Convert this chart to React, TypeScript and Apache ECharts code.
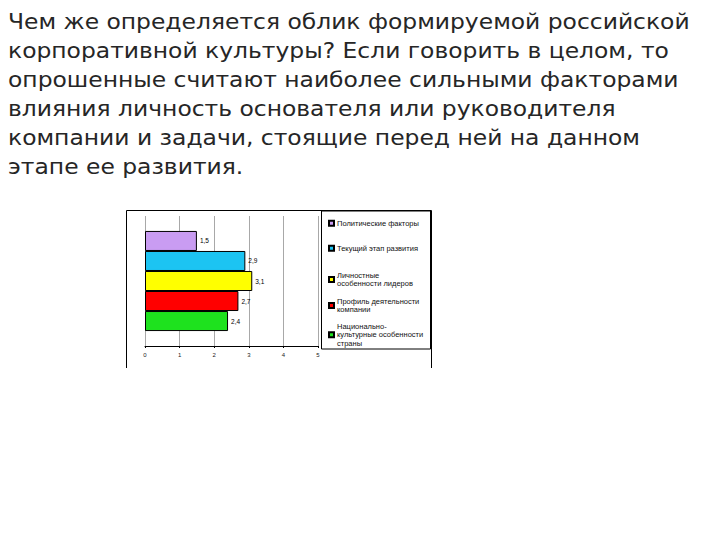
import React, { useEffect, useRef } from 'react';
import * as echarts from 'echarts';

const introLines = [
  'Чем же определяется облик формируемой российской',
  'корпоративной культуры? Если говорить в целом, то',
  'опрошенные считают наиболее сильными факторами',
  'влияния личность основателя или руководителя',
  'компании и задачи, стоящие перед ней на данном',
  'этапе ее развития.',
];

const seriesNames = [
  'Политические факторы',
  'Текущий этап развития',
  'Личностные особенности лидеров',
  'Профиль деятельности компании',
  'Национально-культурные особенности страны',
];
const legendLabels = [
  'Политические факторы',
  'Текущий этап развития',
  'Личностные\nособенности лидеров',
  'Профиль деятельности\nкомпании',
  'Национально-\nкультурные особенности\nстраны',
];
const values = [1.5, 2.9, 3.1, 2.7, 2.4];
const barColors = ['#c99cf2', '#1cc4f2', '#ffff00', '#ff0000', '#1ee21e'];
// top of each legend item (px)
const legendTops = [219, 244, 271, 297, 322];

const App: React.FC = () => {
  const chartRef = useRef<HTMLDivElement>(null);

  useEffect(() => {
    if (!chartRef.current) return;
    const chart = echarts.init(chartRef.current, undefined, { renderer: 'svg' });

    // the slide text is set in a wide face; DejaVu stretched a little is closest
    const introText = introLines.map((line, i) => ({
      type: 'text',
      x: 8,
      y: 21 + 29 * i,
      scaleX: 1.115,
      silent: true,
      style: {
        text: line,
        font: 'normal 21px "DejaVu Sans"',
        fill: '#262626',
        verticalAlign: 'middle',
        align: 'left',
      },
    }));

    const option = {
      animation: false,
      backgroundColor: '#ffffff',
      legend: seriesNames.map((name, i) => ({
        data: [name],
        orient: 'vertical',
        left: 328,
        top: legendTops[i],
        padding: 0,
        itemWidth: 5,
        itemHeight: 5,
        itemGap: 0,
        icon: 'rect',
        selectedMode: false,
        formatter: () => legendLabels[i],
        textStyle: {
          fontFamily: 'Liberation Sans',
          fontSize: 7.5,
          lineHeight: 8.5,
          color: '#111',
          padding: [0, 0, 0, -2],
        },
      })),
      grid: {
        left: 145,
        right: 402,
        top: 216,
        bottom: 194,
        containLabel: false,
      },
      xAxis: {
        type: 'value',
        min: 0,
        max: 5,
        interval: 1,
        axisLine: { show: true, lineStyle: { color: '#000', width: 1 } },
        axisTick: { show: true, length: 2, lineStyle: { color: '#000' } },
        axisLabel: {
          fontFamily: 'Liberation Sans',
          fontSize: 6,
          color: '#222',
          margin: 6,
        },
        splitLine: { show: true, lineStyle: { color: '#a8a8a8', width: 1 } },
      },
      yAxis: {
        type: 'category',
        data: [''],
        axisLine: { show: false },
        axisTick: { show: false },
        axisLabel: { show: false },
      },
      series: seriesNames.map((name, i) => ({
        name,
        type: 'bar',
        data: [values[i]],
        barGap: '0%',
        barCategoryGap: '23%',
        itemStyle: { color: barColors[i], borderColor: '#000', borderWidth: 1 },
        label: {
          show: true,
          position: 'right',
          distance: 3,
          fontFamily: 'Liberation Sans',
          fontSize: 6.5,
          color: '#000',
          formatter: (p: { value: number }) => String(p.value).replace('.', ','),
        },
      })),
      graphic: [
        ...introText,
        {
          type: 'polyline',
          shape: { points: [[126.5, 368], [126.5, 210.5], [431.5, 210.5], [431.5, 368]] },
          style: { stroke: '#000', lineWidth: 1, fill: 'none' },
          silent: true,
        },
        {
          type: 'rect',
          shape: { x: 321.5, y: 211, width: 109, height: 138 },
          style: { stroke: '#000', lineWidth: 1, fill: 'none' },
          silent: true,
          z: -1,
        },
      ],
    };

    chart.setOption(option);
    return () => {
      chart.dispose();
    };
  }, []);

  return (
    <div
      ref={chartRef}
      style={{ position: 'fixed', left: 0, top: 0, width: '720px', height: '540px' }}
    />
  );
};

export default App;
